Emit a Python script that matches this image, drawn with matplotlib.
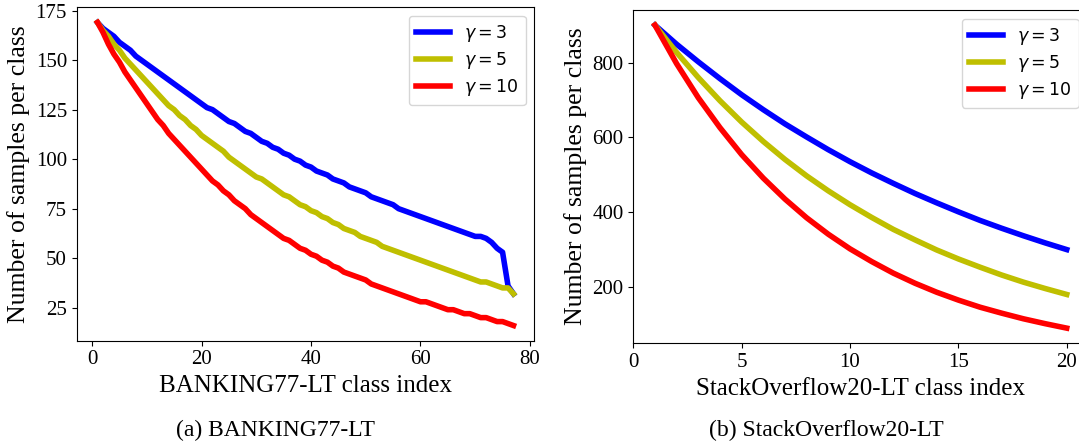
import matplotlib
matplotlib.use('Agg')
import matplotlib.pyplot as plt

plt.rcParams['font.family'] = ['Liberation Serif', 'DejaVu Sans']
plt.rcParams['mathtext.fontset'] = 'dejavusans'

# BANKING77-LT: samples per class (class index 1..77)
BANK_IDX = list(range(1, 78))
BANK_G3 = [169, 166, 164, 162, 159, 157, 155, 152, 150, 148,
           146, 144, 142, 140, 138, 136, 134, 132, 130, 128,
           126, 125, 123, 121, 119, 118, 116, 114, 113, 111,
           109, 108, 106, 105, 103, 102, 100, 99, 97, 96,
           94, 93, 92, 90, 89, 88, 86, 85, 84, 83,
           81, 80, 79, 78, 77, 75, 74, 73, 72, 71,
           70, 69, 68, 67, 66, 65, 64, 63, 62, 61,
           61, 60, 58, 55, 53, 36, 32]
BANK_G5 = [169, 165, 162, 158, 155, 151, 148, 145, 142, 139,
           136, 133, 130, 127, 125, 122, 120, 117, 115, 112,
           110, 108, 106, 104, 101, 99, 97, 95, 93, 91,
           90, 88, 86, 84, 82, 81, 79, 77, 76, 74,
           73, 71, 70, 68, 67, 65, 64, 63, 61, 60,
           59, 58, 56, 55, 54, 53, 52, 51, 50, 49,
           48, 47, 46, 45, 44, 43, 42, 41, 40, 39,
           38, 38, 37, 36, 35, 35, 32]
BANK_G10 = [169, 164, 158, 153, 149, 144, 140, 136, 132, 128,
            124, 120, 117, 113, 110, 107, 104, 101, 98, 95,
            92, 89, 87, 84, 82, 79, 77, 75, 72, 70,
            68, 66, 64, 62, 60, 59, 57, 55, 54, 52,
            51, 49, 48, 46, 45, 43, 42, 41, 40, 39,
            37, 36, 35, 34, 33, 32, 31, 30, 29, 28,
            28, 27, 26, 25, 24, 24, 23, 22, 22, 21,
            20, 20, 19, 18, 18, 17, 16]

# StackOverflow20-LT: samples per class (class index 1..20)
SO_IDX = list(range(1, 21))
SO_G3 = [900, 849, 802, 757, 714, 674, 636, 601, 567, 535,
         505, 477, 450, 425, 401, 378, 357, 337, 318, 300]
SO_G5 = [900, 827, 760, 698, 641, 589, 541, 497, 457, 420,
         386, 354, 326, 299, 275, 253, 232, 213, 196, 180]
SO_G10 = [900, 797, 706, 626, 554, 491, 435, 385, 341, 302,
          268, 237, 210, 186, 165, 146, 130, 115, 102, 90]

LABELS = [r'$\gamma = 3$', r'$\gamma = 5$', r'$\gamma = 10$']
COLORS = ['b', 'y', 'r']


def panel(ax, idx, series, xlabel):
    for vals, lab, c in zip(series, LABELS, COLORS):
        ax.plot(idx, vals, color=c, lw=4, label=lab)
    ax.set_xlabel(xlabel, fontsize=18)
    ax.set_ylabel('Number of samples per class', fontsize=18.5)
    ax.tick_params(labelsize=15)
    ax.legend(loc='upper right', prop={'family': 'DejaVu Sans', 'size': 12.5},
              handlelength=2.0, labelspacing=0.35)


fig = plt.figure(figsize=(10.79, 4.46), dpi=100)
ax1 = fig.add_axes([0.0711, 0.2361, 0.4241, 0.7475])
ax2 = fig.add_axes([0.5869, 0.2303, 0.4208, 0.7473])

panel(ax1, BANK_IDX, [BANK_G3, BANK_G5, BANK_G10], 'BANKING77-LT class index')
panel(ax2, SO_IDX, [SO_G3, SO_G5, SO_G10], 'StackOverflow20-LT class index')
ax2.set_xlim(left=0)

fig.text(275 / 1079, 1 - 430 / 446, '(a) BANKING77-LT', ha='center', va='center', fontsize=17)
fig.text(826 / 1079, 1 - 430 / 446, '(b) StackOverflow20-LT', ha='center', va='center', fontsize=17)

fig.savefig('out.png', dpi=100)
